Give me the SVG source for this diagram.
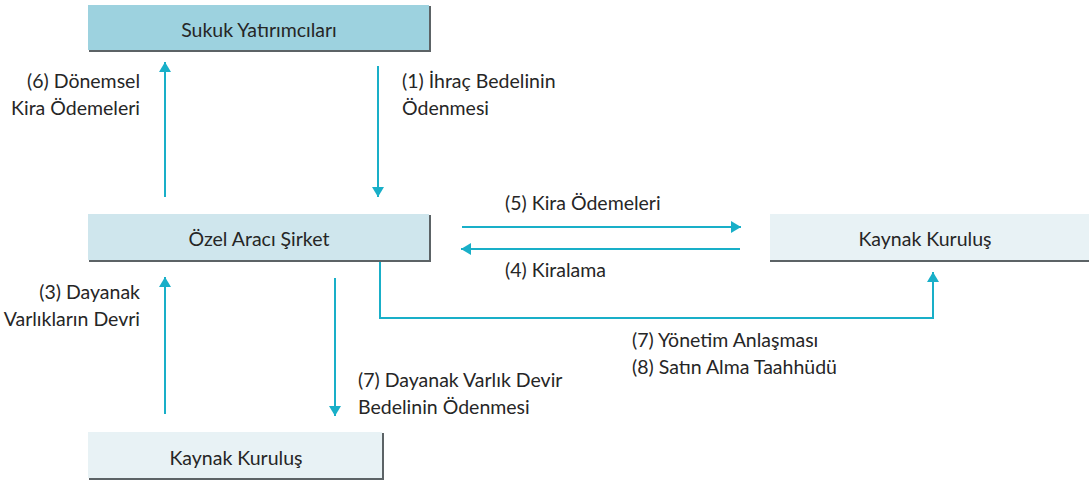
<svg xmlns="http://www.w3.org/2000/svg" width="1089" height="481" viewBox="0 0 1089 481">
  <defs>
    <marker id="arrow" viewBox="0 0 10 12" refX="10" refY="6" markerWidth="10" markerHeight="12" markerUnits="userSpaceOnUse" orient="auto">
      <path d="M0,0 L10,6 L0,12 z" fill="#19afc8"/>
    </marker>
  </defs>
  <style>
    text { font-family: Lato, "Open Sans", sans-serif; font-size: 19.5px; fill: #262626; }
    .mid { text-anchor: middle; }
    .end { text-anchor: end; }
    .shadow { fill: #5c6366; }
    .conn { fill: none; stroke: #19afc8; stroke-width: 2; }
  </style>
  <rect width="1089" height="481" fill="#ffffff"/>

  <g id="sukuk-yatirimcilari">
    <rect class="shadow" x="89" y="6" width="342" height="46"/>
    <rect x="88" y="5" width="341" height="45" fill="#9dd2df"/>
    <text class="mid" x="259" y="37">Sukuk Yatırımcıları</text>
  </g>

  <g id="ozel-araci-sirket">
    <rect class="shadow" x="89" y="215" width="342" height="47"/>
    <rect x="88" y="214" width="341" height="46" fill="#cfe6ed"/>
    <text class="mid" x="259" y="246">Özel Aracı Şirket</text>
  </g>

  <g id="kaynak-kurulus-sag">
    <rect class="shadow" x="770" y="215" width="319" height="47"/>
    <rect x="770" y="214" width="319" height="46" fill="#e8f2f5"/>
    <text class="mid" x="925" y="246">Kaynak Kuruluş</text>
  </g>

  <g id="kaynak-kurulus-alt">
    <rect class="shadow" x="89" y="433" width="295" height="47"/>
    <rect x="88" y="432" width="294" height="46" fill="#e8f2f5"/>
    <text class="mid" x="236" y="465">Kaynak Kuruluş</text>
  </g>

  <g id="connectors">
    <line class="conn" x1="165" y1="197" x2="165" y2="62" marker-end="url(#arrow)"/>
    <line class="conn" x1="378" y1="66" x2="378" y2="197" marker-end="url(#arrow)"/>
    <line class="conn" x1="462" y1="227" x2="741" y2="227" marker-end="url(#arrow)"/>
    <line class="conn" x1="740" y1="249" x2="461" y2="249" marker-end="url(#arrow)"/>
    <polyline class="conn" points="380,262 380,318 933,318 933,272" marker-end="url(#arrow)"/>
    <line class="conn" x1="165" y1="414" x2="165" y2="277" marker-end="url(#arrow)"/>
    <line class="conn" x1="335" y1="278" x2="335" y2="416" marker-end="url(#arrow)"/>
  </g>

  <g id="labels">
    <text class="end" x="140" y="88">(6) Dönemsel</text>
    <text class="end" x="140" y="115">Kira Ödemeleri</text>
    <text x="402" y="88">(1) İhraç Bedelinin</text>
    <text x="402" y="115">Ödenmesi</text>
    <text x="505" y="210">(5) Kira Ödemeleri</text>
    <text x="505" y="277">(4) Kiralama</text>
    <text class="end" x="140" y="299">(3) Dayanak</text>
    <text class="end" x="140" y="326">Varlıkların Devri</text>
    <text x="358" y="387">(7) Dayanak Varlık Devir</text>
    <text x="358" y="414">Bedelinin Ödenmesi</text>
    <text x="632" y="347">(7) Yönetim Anlaşması</text>
    <text x="632" y="374">(8) Satın Alma Taahhüdü</text>
  </g>
</svg>
